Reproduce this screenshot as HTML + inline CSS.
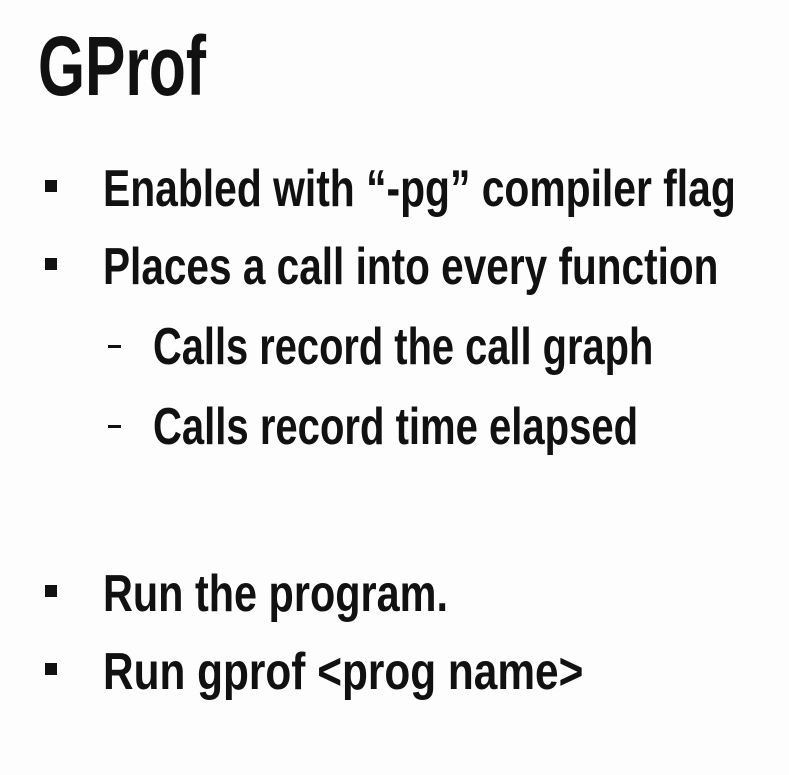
<!DOCTYPE html>
<html><head><meta charset="utf-8"><style>
html,body{margin:0;padding:0;background:#fdfdfd;}
body{width:789px;height:775px;position:relative;overflow:hidden;font-family:"Liberation Sans",sans-serif;font-weight:bold;color:#111;}
.t{position:absolute;white-space:nowrap;line-height:1;transform-origin:0 0;transform:scaleX(0.78);}
.b{position:absolute;width:12px;height:12px;background:#111;}
.d{position:absolute;width:13px;height:3px;background:#111;}
</style></head><body>
<div class="t" style="left:38px;top:24px;font-size:84px;transform:scaleX(0.72);">GProf</div>
<div class="b" style="left:45px;top:180px"></div>
<div class="t" style="left:103px;top:163px;font-size:52px;transform:scaleX(0.785);">Enabled with “-pg” compiler flag</div>
<div class="b" style="left:45px;top:258px"></div>
<div class="t" style="left:103px;top:241px;font-size:52px;">Places a call into every function</div>
<div class="d" style="left:108px;top:345px"></div>
<div class="t" style="left:153px;top:321px;font-size:52px;transform:scaleX(0.766);">Calls record the call graph</div>
<div class="d" style="left:108px;top:425px"></div>
<div class="t" style="left:153px;top:401px;font-size:52px;transform:scaleX(0.77);">Calls record time elapsed</div>
<div class="b" style="left:45px;top:585px"></div>
<div class="t" style="left:103px;top:568px;font-size:52px;transform:scaleX(0.796);">Run the program.</div>
<div class="b" style="left:45px;top:663px"></div>
<div class="t" style="left:103px;top:646px;font-size:52px;transform:scaleX(0.815);">Run gprof &lt;prog name&gt;</div>
</body></html>
